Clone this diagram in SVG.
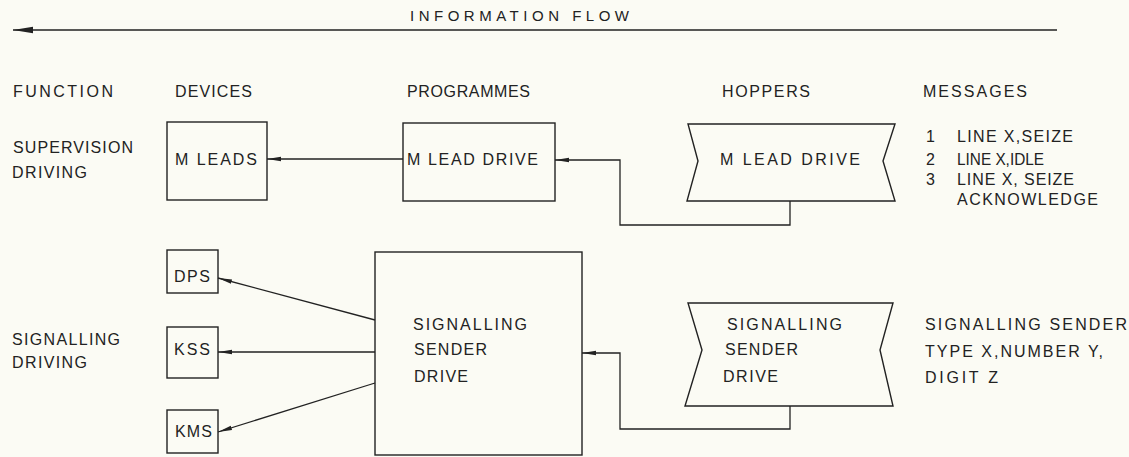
<svg xmlns="http://www.w3.org/2000/svg" width="1129" height="457" viewBox="0 0 1129 457">
<style>
.bg{fill:#fbfbf4}
.box{fill:none;stroke:#222;stroke-width:1.4}
.ln{fill:none;stroke:#222;stroke-width:1.3}
text{font-family:"Liberation Sans","DejaVu Sans",Arial,sans-serif;fill:#222}
</style>
<defs>
<marker id="ah" viewBox="0 0 14 6" refX="14" refY="3" markerWidth="14" markerHeight="6" markerUnits="userSpaceOnUse" orient="auto">
<path d="M0,0.8 L14,3 L0,5.2 z" fill="#222"/>
</marker>
<marker id="ahb" viewBox="0 0 20 8" refX="20" refY="4" markerWidth="20" markerHeight="8" markerUnits="userSpaceOnUse" orient="auto">
<path d="M0,0.8 L20,4 L0,7.2 z" fill="#222"/>
</marker>
</defs>
<rect class="bg" x="0" y="0" width="1129" height="457"/>

<g id="labels" font-size="16">
<text font-size="15" x="410" y="21" textLength="219" lengthAdjust="spacing">INFORMATION FLOW</text>
<text x="13" y="97" textLength="100" lengthAdjust="spacing">FUNCTION</text>
<text x="175" y="97" textLength="77" lengthAdjust="spacing">DEVICES</text>
<text x="407" y="97" textLength="123" lengthAdjust="spacing">PROGRAMMES</text>
<text x="722" y="97" textLength="88" lengthAdjust="spacing">HOPPERS</text>
<text x="923" y="97" textLength="104" lengthAdjust="spacing">MESSAGES</text>
<text x="13" y="153" textLength="120" lengthAdjust="spacing">SUPERVISION</text>
<text x="12" y="178" textLength="75" lengthAdjust="spacing">DRIVING</text>
<text x="12" y="345" textLength="108" lengthAdjust="spacing">SIGNALLING</text>
<text x="12" y="368" textLength="75" lengthAdjust="spacing">DRIVING</text>
</g>

<g id="messages-mlead" font-size="16">
<text x="926" y="142">1</text>
<text x="957" y="142" textLength="116" lengthAdjust="spacing">LINE X,SEIZE</text>
<text x="926" y="165">2</text>
<text x="957" y="165" textLength="87" lengthAdjust="spacingAndGlyphs">LINE X,IDLE</text>
<text x="926" y="185">3</text>
<text x="957" y="185" textLength="117" lengthAdjust="spacing">LINE X, SEIZE</text>
<text x="957" y="205" textLength="141" lengthAdjust="spacing">ACKNOWLEDGE</text>
</g>

<g id="messages-signalling" font-size="16">
<text x="925" y="330" textLength="202" lengthAdjust="spacing">SIGNALLING  SENDER</text>
<text x="925" y="357" textLength="178" lengthAdjust="spacing">TYPE X,NUMBER Y,</text>
<text x="925" y="383" textLength="73" lengthAdjust="spacing">DIGIT  Z</text>
</g>

<g id="m-leads" font-size="16">
<rect class="box" x="167" y="122" width="100" height="78"/>
<text x="175" y="165" textLength="82" lengthAdjust="spacing">M LEADS</text>
</g>

<g id="m-lead-drive" font-size="16">
<rect class="box" x="403" y="123" width="152" height="78"/>
<text x="407" y="165" textLength="131" lengthAdjust="spacing">M LEAD DRIVE</text>
</g>

<g id="m-lead-drive-hopper" font-size="16">
<path class="box" d="M688,124 L895,124 L883,161 L895,201 L687,201 L698,161 Z"/>
<text x="720" y="165" textLength="140" lengthAdjust="spacing">M LEAD DRIVE</text>
</g>

<g id="dps" font-size="16">
<rect class="box" x="167" y="250" width="51" height="43"/>
<text x="174" y="282" textLength="36" lengthAdjust="spacing">DPS</text>
</g>

<g id="kss" font-size="16">
<rect class="box" x="167" y="327" width="51" height="51"/>
<text x="174" y="355" textLength="36" lengthAdjust="spacing">KSS</text>
</g>

<g id="kms" font-size="16">
<rect class="box" x="167" y="410" width="51" height="43"/>
<text x="175" y="437" textLength="37" lengthAdjust="spacing">KMS</text>
</g>

<g id="signalling-sender-drive" font-size="16">
<rect class="box" x="375" y="252" width="207" height="203"/>
<text x="413" y="330" textLength="114" lengthAdjust="spacing">SIGNALLING</text>
<text x="414" y="355" textLength="73" lengthAdjust="spacing">SENDER</text>
<text x="414" y="382" textLength="54" lengthAdjust="spacing">DRIVE</text>
</g>

<g id="signalling-sender-drive-hopper" font-size="16">
<path class="box" d="M688,303 L893,303 L880,350 L893,406 L685,406 L702,350 Z"/>
<text x="727" y="330" textLength="115" lengthAdjust="spacing">SIGNALLING</text>
<text x="725" y="355" textLength="73" lengthAdjust="spacing">SENDER</text>
<text x="723" y="382" textLength="55" lengthAdjust="spacing">DRIVE</text>
</g>

<g id="connectors">
<line class="ln" x1="1057" y1="30" x2="13" y2="30" marker-end="url(#ahb)"/>
<line class="ln" x1="403" y1="159" x2="267" y2="159" marker-end="url(#ah)"/>
<polyline class="ln" points="790,201 790,225 620,225 620,160 555,160" marker-end="url(#ah)"/>
<line class="ln" x1="375" y1="320" x2="218" y2="278" marker-end="url(#ah)"/>
<line class="ln" x1="375" y1="352" x2="218" y2="352" marker-end="url(#ah)"/>
<line class="ln" x1="375" y1="383" x2="218" y2="432" marker-end="url(#ah)"/>
<polyline class="ln" points="790,406 790,429 620,429 620,353 582,353" marker-end="url(#ah)"/>
</g>
</svg>
